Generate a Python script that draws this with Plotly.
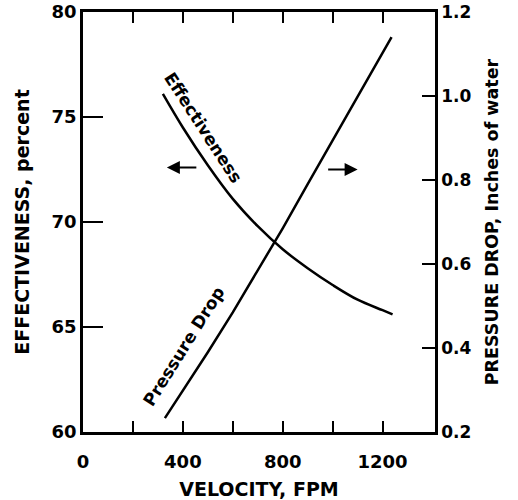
import plotly.graph_objects as go

# Data
velocity_eff = [320, 400, 500, 600, 700, 800, 900, 1000, 1100, 1200, 1240]
effectiveness = [76.1, 74.5, 72.7, 71.1, 69.8, 68.7, 67.8, 67.0, 66.3, 65.8, 65.6]

velocity_dp = [328, 400, 500, 600, 700, 800, 900, 1000, 1100, 1200, 1236]
pressure_drop = [0.233, 0.298, 0.39, 0.485, 0.585, 0.685, 0.79, 0.895, 1.0, 1.105, 1.14]

x_tickvals = [0, 200, 400, 600, 800, 1000, 1200]
x_ticktext = ["0", "", "400", "", "800", "", "1200"]
y_tickvals = [60, 65, 70, 75, 80]
y_ticktext = ["60", "65", "70", "75", "80"]
y2_tickvals = [0.2, 0.4, 0.6, 0.8, 1.0, 1.2]
y2_ticktext = ["0.2", "0.4", "0.6", "0.8", "1.0", "1.2"]

FONT = "DejaVu Sans"

fig = go.Figure()
fig.add_trace(go.Scatter(x=velocity_eff, y=effectiveness, mode="lines",
                         line=dict(color="black", width=2.5, shape="spline", smoothing=1.0),
                         name="Effectiveness", yaxis="y"))
fig.add_trace(go.Scatter(x=velocity_dp, y=pressure_drop, mode="lines",
                         line=dict(color="black", width=2.5),
                         name="Pressure Drop", yaxis="y2"))

fig.update_layout(
    width=518, height=500,
    margin=dict(l=83, r=83, t=12, b=68),
    paper_bgcolor="white", plot_bgcolor="white",
    showlegend=False,
    font=dict(family=FONT, color="black", size=18),
    xaxis=dict(range=[0, 1410], tickvals=x_tickvals, ticktext=x_ticktext,
               ticks="inside", ticklen=11, tickwidth=2, tickcolor="black",
               showline=True, linecolor="black", linewidth=2.5, mirror="ticks",
               showgrid=False, zeroline=False, automargin=False,
               ticklabelstandoff=12,
               tickfont=dict(size=18, weight="bold"),
               title=dict(text="VELOCITY, FPM", font=dict(size=19, weight="bold"), standoff=12)),
    yaxis=dict(range=[60, 80], tickvals=y_tickvals, ticktext=y_ticktext,
               ticks="inside", ticklen=20, tickwidth=2, tickcolor="black",
               showline=True, linecolor="black", linewidth=2.5,
               showgrid=False, zeroline=False, automargin=False,
               tickfont=dict(size=18, weight="bold"),
               title=dict(text="EFFECTIVENESS, percent", font=dict(size=19, weight="bold"), standoff=17)),
    yaxis2=dict(range=[0.2, 1.2], tickvals=y2_tickvals, ticktext=y2_ticktext,
                overlaying="y", side="right",
                ticks="inside", ticklen=13, tickwidth=2, tickcolor="black",
                showline=True, linecolor="black", linewidth=2.5,
                showgrid=False, zeroline=False, automargin=False,
                tickfont=dict(size=17, weight="bold"),
                title=dict(text="PRESSURE DROP, Inches of water", font=dict(size=17.5, weight="bold"), standoff=16)),
)

fig.add_annotation(x=484, y=74.5, xref="x", yref="y", text="Effectiveness",
                   showarrow=False, textangle=57, font=dict(size=17, family=FONT, weight="bold"))
fig.add_annotation(x=404, y=64.1, xref="x", yref="y", text="Pressure Drop",
                   showarrow=False, textangle=-58, font=dict(size=17, family=FONT, weight="bold"))

# direction arrows
fig.add_annotation(x=336, y=72.6, ax=460, ay=72.6, xref="x", yref="y",
                   axref="x", ayref="y", text="", showarrow=True,
                   arrowhead=2, arrowsize=1.3, arrowwidth=2, arrowcolor="black")
fig.add_annotation(x=1100, y=72.5, ax=976, ay=72.5, xref="x", yref="y",
                   axref="x", ayref="y", text="", showarrow=True,
                   arrowhead=2, arrowsize=1.3, arrowwidth=2, arrowcolor="black")

fig.write_html("out.html", config={"displayModeBar": False},
               post_script="document.body.style.margin='0';")
